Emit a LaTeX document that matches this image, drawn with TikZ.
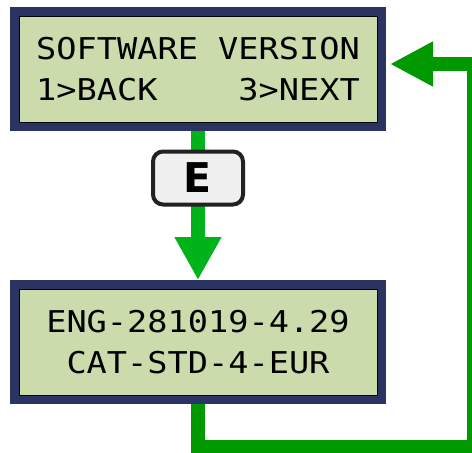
\documentclass[tikz,border=0pt]{standalone}
\usepackage{fontspec}
\usepackage{xcolor}
\usepackage{tikz}
\usetikzlibrary{arrows.meta, shadows}
\newfontfamily\lcdfont[FakeStretch=1.12]{DejaVu Sans Mono}
\newfontfamily\tombolfont{DejaVu Sans}
\definecolor{biru}{HTML}{2B3362}
\definecolor{lcd}{HTML}{CCDBAB}
\definecolor{hijau}{HTML}{00B31A}
\definecolor{hijautua}{HTML}{009A00}
\definecolor{abu}{HTML}{F0F0F0}
\definecolor{tepi}{HTML}{222222}

\begin{document}
\begin{tikzpicture}[
    x=1pt, y=-1pt,
    layar/.style={draw=black, line width=1pt, fill=lcd,
                  preaction={draw=biru, line width=18pt},
                  minimum width=358pt, minimum height=106pt, outer sep=9pt,
                  align=center, font=\lcdfont\fontsize{30}{41}\selectfont},
    kunci/.style={draw=tepi, line width=4pt, fill=abu, rounded corners=10pt,
                  minimum width=90pt, minimum height=53pt,
                  drop shadow={shadow xshift=1.5pt, shadow yshift=-1.5pt, opacity=0.3},
                  font=\tombolfont\bfseries\fontsize{41}{41}\selectfont},
    panah/.style={draw=hijau, line width=14pt, -{Triangle[length=43pt, width=44pt]}},
    balik/.style={draw=hijautua, line width=14pt, -{Triangle[length=43pt, width=42pt]}}
  ]
    \useasboundingbox (0,0) rectangle (472,453);
    \clip (0,0) rectangle (472,453);
    \node[layar] (menu) at (198,69)
      {SOFTWARE VERSION\\1>BACK\phantom{XXXX}3>NEXT};
    \node[layar] (isi) at (198,342)
      {ENG-281019-4.29\\CAT-STD-4-EUR};
    \coordinate (pojokbawah) at (474,447);
    \coordinate (pojokatas) at (474,64);
    \coordinate (ujung) at (390,64);
    \draw[panah] (menu) -- (isi);
    \node[kunci] (tombol) at (198,178) {E};
    \draw[balik] (isi.south) |- (pojokbawah) -- (pojokatas) -- (ujung);
  \end{tikzpicture}
\end{document}
